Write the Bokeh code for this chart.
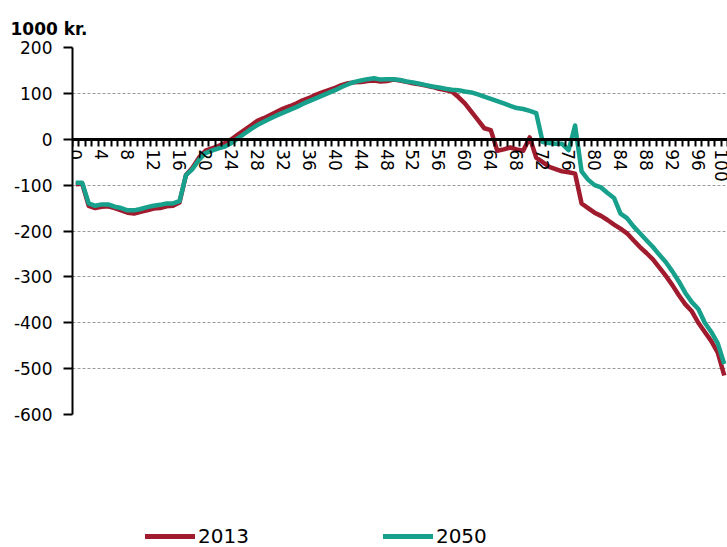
from bokeh.plotting import figure
from bokeh.layouts import column
from bokeh.models import FixedTicker, Legend, LegendItem, Range1d, Title, PrintfTickFormatter
from bokeh.embed import file_html
from bokeh.resources import INLINE

ages = list(range(0, 101))

values_2013 = [
    -98, -97, -145, -150, -147, -146, -150, -155, -160, -162,
    -158, -155, -151, -150, -146, -145, -138, -78, -62, -40,
    -25, -20, -15, -8, 0, 10, 20, 30, 40, 46,
    53, 60, 67, 72, 78, 85, 90, 97, 102, 107,
    112, 118, 122, 124, 125, 127, 128, 126, 127, 130,
    128, 125, 122, 120, 117, 114, 110, 107, 104, 92,
    78, 60, 42, 24, 20, -25, -22, -18, -22, -25,
    4, -40, -50, -60, -65, -70, -72, -75, -140, -150,
    -160, -167, -176, -186, -195, -205, -220, -235, -248, -262,
    -280, -298, -318, -340, -360, -375, -400, -420, -440, -465,
    -515,
]

values_2050 = [
    -95, -95, -140, -145, -142, -142, -147, -150, -155, -155,
    -152, -148, -145, -143, -140, -140, -135, -78, -65, -45,
    -30, -25, -20, -16, -8, 2, 12, 22, 31, 38,
    45, 52, 58, 64, 70, 77, 83, 89, 95, 101,
    107, 114, 120, 125, 128, 131, 133, 130, 131, 131,
    129, 126, 124, 121, 118, 115, 113, 110, 108, 107,
    104, 102, 98, 93, 88, 83, 78, 73, 68, 66,
    62, 57, -6, -8, -10, -10, -24, 30, -70, -88,
    -100, -105, -117, -128, -162, -172, -190, -205, -220, -235,
    -252, -268, -288, -310, -335, -355, -370, -400, -420, -445,
    -490,
]

y_ticks = [-600, -500, -400, -300, -200, -100, 0, 100, 200]
x_label_ticks = list(range(0, 101, 4))
series_names = ["2013", "2050"]
colors = ["#A01B2E", "#17A08B"]
FONT = "DejaVu Sans"

p = figure(width=727, height=500, output_backend="svg", toolbar_location=None,
           x_range=Range1d(-0.5, 100.5), y_range=Range1d(-600, 200),
           min_border_left=72, min_border_right=0, min_border_top=47,
           min_border_bottom=86)
p.outline_line_color = None
p.background_fill_color = "white"

t = Title(text="1000 kr.", text_font=FONT, text_font_size="17px",
          text_font_style="bold", text_color="black",
          align="left", offset=-62, standoff=18)
p.add_layout(t, "above")

r1 = p.line(ages, values_2013, line_color=colors[0], line_width=4.5, line_join="round")
r2 = p.line(ages, values_2050, line_color=colors[1], line_width=4.5, line_join="round")

# x axis at zero
xa = p.xaxis[0]
xa.fixed_location = 0
xa.ticker = FixedTicker(ticks=x_label_ticks,
                        minor_ticks=[i - 0.5 for i in range(0, 102)])
xa.axis_line_color = "black"
xa.axis_line_width = 3
xa.major_tick_line_color = None
xa.major_tick_out = 0
xa.major_tick_in = 0
xa.minor_tick_line_color = "black"
xa.minor_tick_line_width = 2
xa.minor_tick_out = 7
xa.minor_tick_in = 0
xa.major_label_orientation = "vertical"
xa.major_label_standoff = 3
xa.major_label_text_font = FONT
xa.major_label_text_font_size = "17px"
xa.major_label_text_color = "black"

ya = p.yaxis[0]
ya.ticker = FixedTicker(ticks=y_ticks, minor_ticks=[])
ya.formatter = PrintfTickFormatter(format="%d")
ya.axis_line_color = "black"
ya.axis_line_width = 2
ya.major_tick_line_color = "black"
ya.major_tick_line_width = 2
ya.major_tick_out = 9
ya.major_tick_in = 0
ya.minor_tick_line_color = None
ya.major_label_standoff = 11
ya.major_label_text_font = FONT
ya.major_label_text_font_size = "17px"
ya.major_label_text_color = "black"

p.xgrid.grid_line_color = None
p.ygrid.grid_line_color = "#9A9A9A"
p.ygrid.grid_line_dash = "3 2"
p.ygrid.grid_line_width = 1

# legend strip below the chart
lg = figure(width=727, height=47, output_backend="svg", toolbar_location=None,
            x_range=Range1d(0, 1), y_range=Range1d(0, 1),
            x_axis_type=None, y_axis_type=None,
            min_border_left=0, min_border_right=0, min_border_top=0,
            min_border_bottom=0)
lg.outline_line_color = None
lg.xgrid.grid_line_color = None
lg.ygrid.grid_line_color = None
l1 = lg.line([5, 6], [5, 6], line_color=colors[0], line_width=5, line_cap="round")
l2 = lg.line([5, 6], [5, 6], line_color=colors[1], line_width=5, line_cap="round")
legend = Legend(items=[LegendItem(label=series_names[0], renderers=[l1]),
                       LegendItem(label=series_names[1], renderers=[l2])],
                orientation="horizontal", location=(73, -1),
                glyph_width=50, glyph_height=18, label_height=18,
                label_standoff=3, spacing=134,
                padding=0, margin=0, border_line_color=None,
                background_fill_alpha=0,
                label_text_font=FONT, label_text_font_size="20px",
                label_text_color="black")
lg.add_layout(legend, "center")

layout = column(p, lg, spacing=0)
open("out.html", "w").write(file_html(layout, INLINE))
